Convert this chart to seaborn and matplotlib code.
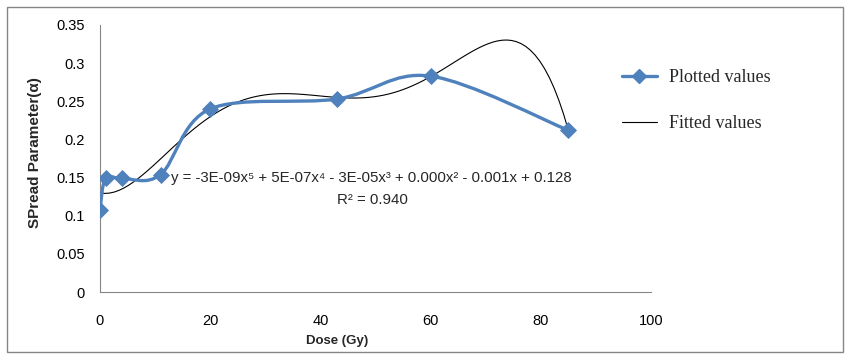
import matplotlib.pyplot as plt
import matplotlib.patches as mpatches
from matplotlib.path import Path
from matplotlib.lines import Line2D
import numpy as np
import seaborn as sns

# %% data
dose = [0, 1, 4, 11, 20, 43, 60, 85]
spread = [0.108, 0.149, 0.149, 0.154, 0.240, 0.253, 0.283, 0.212]
x_ticks = [0, 20, 40, 60, 80, 100]
y_ticks = [0, 0.05, 0.1, 0.15, 0.2, 0.25, 0.3, 0.35]
equation = "y = -3E-09x\u2075 + 5E-07x\u2074 - 3E-05x\u00b3 + 0.000x\u00b2 - 0.001x + 0.128"
r2_text = "R\u00b2 = 0.940"

blue = "#4F81BD"

sns.set_style("white")
plt.rcParams['font.family'] = ['Liberation Sans', 'DejaVu Sans']

fig = plt.figure(figsize=(8.48, 3.59), dpi=100)
ax = fig.add_axes([100 / 848, 1 - 292 / 359, 551 / 848, 267 / 359])

ax.set_xlim(0, 100)
ax.set_ylim(0, 0.35)
ax.set_xticks(x_ticks)
ax.set_yticks(y_ticks)
ax.set_yticklabels([f"{v:g}" for v in y_ticks])

# fitted 5th order polynomial (trendline)
sns.regplot(x=dose, y=spread, order=5, ci=None, scatter=False, ax=ax,
            truncate=True, line_kws=dict(color='black', lw=0.8))

# smoothed line through the data points (Catmull-Rom style, in screen space)
fig.canvas.draw()
pts = ax.transData.transform(np.column_stack([dose, spread]))
verts = [pts[0]]
codes = [Path.MOVETO]
n = len(pts)
for i in range(n - 1):
    p0 = pts[i - 1] if i > 0 else pts[i]
    p1 = pts[i]
    p2 = pts[i + 1]
    p3 = pts[i + 2] if i + 2 < n else pts[i + 1]
    c1 = p1 + (p2 - p0) / 6
    c2 = p2 - (p3 - p1) / 6
    verts += [c1, c2, p2]
    codes += [Path.CURVE4] * 3
verts = ax.transData.inverted().transform(np.array(verts))
ax.add_patch(mpatches.PathPatch(Path(verts, codes), facecolor='none',
                                edgecolor=blue, lw=2.4, zorder=3))
sns.scatterplot(x=dose, y=spread, ax=ax, marker='D', s=65, color=blue,
                edgecolor=blue, zorder=4, legend=False)

# equation of the trendline
ax.text(49.2, 0.1494, equation, ha='center', va='center', fontsize=10.8)
ax.text(49.4, 0.1206, r2_text, ha='center', va='center', fontsize=10.8)

for side in ['top', 'right']:
    ax.spines[side].set_visible(False)
for side in ['left', 'bottom']:
    ax.spines[side].set_color('#868686')
    ax.spines[side].set_linewidth(0.8)
ax.tick_params(axis='both', direction='out', length=5, width=0.8,
               color='#868686', labelsize=10.5, labelcolor='black')
ax.tick_params(axis='y', pad=6)
ax.tick_params(axis='x', pad=11)
ax.set_xlabel("Dose (Gy)", fontsize=9.5, fontweight='bold')
ax.set_ylabel("SPread Parameter(\u03b1)", fontsize=11, fontweight='bold')
ax.xaxis.set_label_coords((337 - 100) / 551, -(335 - 292) / 267)
ax.yaxis.set_label_coords(-(100 - 42) / 551, (292 - 153) / 267)

handles = [Line2D([], [], color=blue, lw=2.4, marker='D', markersize=7),
           Line2D([], [], color='black', lw=0.8)]
fig.legend(handles, ["Plotted values", "Fitted values"], loc='upper left',
           bbox_to_anchor=(606 / 848, 1 - 53 / 359), frameon=False,
           prop={'family': 'Liberation Serif', 'size': 13},
           handlelength=1.9, handletextpad=0.7, labelspacing=1.6)

fig.add_artist(mpatches.Rectangle((7 / 848, 7 / 359), 836 / 848, 345 / 359,
                                  transform=fig.transFigure, fill=False,
                                  edgecolor='#868686', lw=1))

fig.savefig("out.png", dpi=100)
